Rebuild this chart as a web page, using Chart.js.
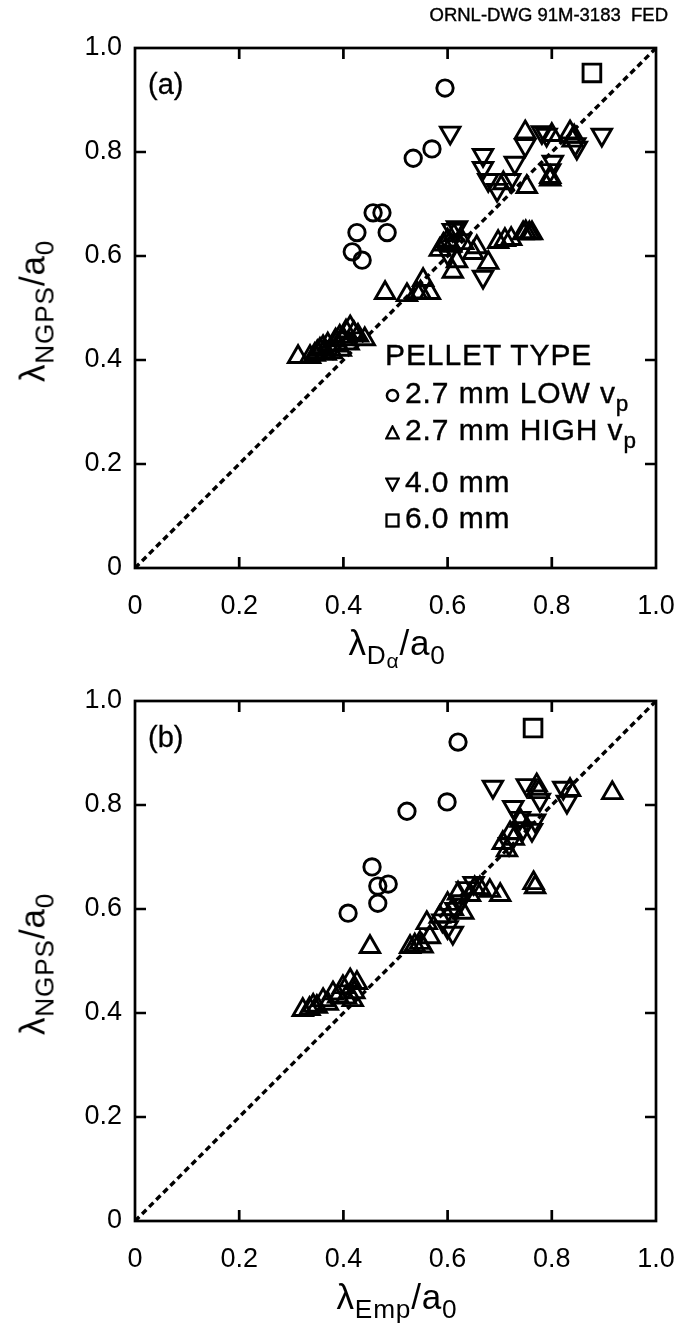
<!DOCTYPE html>
<html>
<head>
<meta charset="utf-8">
<script src="https://cdn.jsdelivr.net/npm/chart.js@4.4.1/dist/chart.umd.min.js"></script>
<style>
  html,body{margin:0;padding:0;background:#fff;}
  #wrap{position:relative;width:681px;height:1324px;overflow:hidden;background:#fff;font-family:"Liberation Sans",Arial,sans-serif;color:#000;}
  canvas{position:absolute;left:0;}
  .t{position:absolute;white-space:nowrap;line-height:1;}
  .ytitle{position:absolute;white-space:nowrap;line-height:1;transform:translate(-50%,-50%) rotate(-90deg);font-size:35px;letter-spacing:0.8px;}
  .xtitle{position:absolute;white-space:nowrap;line-height:1;transform:translate(-50%,-50%);font-size:35px;letter-spacing:0.8px;}
  sub{font-size:0.75em;vertical-align:-0.35em;line-height:0;}
  .leg{position:absolute;left:385px;font-size:30px;letter-spacing:0.9px;white-space:nowrap;line-height:1;transform:translateY(-50%);-webkit-text-stroke:0.4px #000;}
  .leg svg{vertical-align:middle;margin-right:5px;}
</style>
</head>
<body>
<div id="wrap">
  <canvas id="ca" width="681" height="653" style="top:0;width:681px;height:653px;"></canvas>
  <canvas id="cb" width="681" height="671" style="top:653px;width:681px;height:671px;"></canvas>

  <div class="t" style="right:13px;top:6px;font-size:18.5px;-webkit-text-stroke:0.4px #000;">ORNL-DWG 91M-3183&nbsp; FED</div>

  <div class="t" style="left:148px;top:70px;font-size:29px;-webkit-text-stroke:0.3px #000;">(a)</div>
  <div class="t" style="left:148px;top:723px;font-size:29px;-webkit-text-stroke:0.3px #000;">(b)</div>

  <div class="ytitle" style="left:32px;top:311px;">&lambda;<sub>NGPS</sub>/a<sub>0</sub></div>
  <div class="ytitle" style="left:32px;top:964px;">&lambda;<sub>NGPS</sub>/a<sub>0</sub></div>
  <div class="xtitle" style="left:397px;top:643px;">&lambda;<sub>D<sub style="font-size:0.8em;vertical-align:-0.2em">&alpha;</sub></sub>/a<sub>0</sub></div>
  <div class="xtitle" style="left:397px;top:1296px;">&lambda;<sub>Emp</sub>/a<sub>0</sub></div>

  <div class="leg" style="top:355px;">PELLET TYPE</div>
  <div class="leg" style="top:393px;"><svg width="15" height="15"><circle cx="7.5" cy="7.5" r="5.6" fill="none" stroke="#000" stroke-width="2.5"/></svg>2.7 mm LOW v<sub>p</sub></div>
  <div class="leg" style="top:430px;"><svg width="15" height="15"><polygon points="7.5,1.5 13.6,13.3 1.4,13.3" fill="none" stroke="#000" stroke-width="2.3"/></svg>2.7 mm HIGH v<sub>p</sub></div>
  <div class="leg" style="top:482px;"><svg width="15" height="15"><polygon points="1.4,1.7 13.6,1.7 7.5,13.5" fill="none" stroke="#000" stroke-width="2.3"/></svg>4.0 mm</div>
  <div class="leg" style="top:518px;"><svg width="15" height="15"><rect x="1.5" y="1.5" width="12" height="12" fill="none" stroke="#000" stroke-width="2.3"/></svg>6.0 mm</div>
</div>

<script>
// ---------- tick values / labels ----------
const tickValues = [0, 0.2, 0.4, 0.6, 0.8, 1.0];
const tickLabels = ['0', '0.2', '0.4', '0.6', '0.8', '1.0'];

// ---------- panel (a): lambda_Dalpha vs lambda_NGPS ----------
const aLow = [[0.595,0.923],[0.534,0.788],[0.570,0.806],[0.457,0.683],[0.474,0.683],
  [0.484,0.645],[0.426,0.645],[0.417,0.608],[0.436,0.592]];
const aHigh = [[0.313,0.406],[0.336,0.406],[0.345,0.410],[0.350,0.415],[0.355,0.420],[0.361,0.425],
  [0.366,0.412],[0.370,0.430],[0.378,0.415],[0.385,0.438],[0.389,0.428],[0.393,0.445],[0.400,0.440],
  [0.405,0.455],[0.410,0.432],[0.413,0.463],[0.420,0.452],[0.428,0.447],[0.441,0.440],[0.395,0.420],
  [0.480,0.529],[0.522,0.525],[0.541,0.529],[0.553,0.554],[0.566,0.529],[0.548,0.530],
  [0.585,0.612],[0.592,0.622],[0.600,0.630],[0.607,0.620],[0.612,0.640],[0.610,0.570],[0.618,0.590],
  [0.630,0.625],[0.649,0.606],[0.656,0.617],[0.678,0.587],[0.697,0.627],[0.710,0.631],[0.722,0.633],
  [0.745,0.644],[0.750,0.646],[0.757,0.644],[0.762,0.644],
  [0.707,0.740],[0.752,0.733],[0.749,0.838],[0.797,0.752],[0.800,0.833],[0.835,0.838],[0.843,0.830],
  [0.840,0.822],[0.797,0.747]];
const a40 = [[0.605,0.837],[0.610,0.650],[0.618,0.655],[0.600,0.605],[0.625,0.630],[0.668,0.560],
  [0.668,0.794],[0.668,0.769],[0.678,0.746],[0.695,0.727],[0.720,0.746],[0.729,0.779],[0.749,0.813],
  [0.781,0.838],[0.790,0.833],[0.802,0.781],[0.797,0.765],[0.848,0.808],[0.845,0.815],[0.896,0.833],
  [0.380,0.425]];
const a60 = [[0.877,0.952]];

// ---------- panel (b): lambda_Emp vs lambda_NGPS ----------
const bLow = [[0.620,0.921],[0.599,0.806],[0.522,0.788],[0.455,0.681],[0.466,0.644],[0.486,0.648],
  [0.466,0.611],[0.409,0.592]];
const bHigh = [[0.322,0.406],[0.335,0.408],[0.342,0.414],[0.349,0.412],[0.361,0.425],[0.370,0.418],
  [0.380,0.438],[0.390,0.432],[0.399,0.450],[0.405,0.430],[0.413,0.463],[0.418,0.425],[0.426,0.458],
  [0.421,0.440],
  [0.451,0.527],[0.528,0.527],[0.537,0.530],[0.547,0.535],[0.560,0.573],[0.566,0.546],[0.552,0.528],
  [0.585,0.585],[0.600,0.610],[0.610,0.600],[0.620,0.630],[0.630,0.593],[0.643,0.627],[0.652,0.640],
  [0.662,0.640],[0.681,0.635],[0.701,0.627],[0.768,0.642],[0.765,0.650],[0.706,0.727],[0.714,0.713],
  [0.720,0.746],[0.727,0.735],[0.740,0.770],[0.771,0.838],[0.775,0.825],[0.835,0.829],[0.916,0.823]];
const b40 = [[0.600,0.565],[0.610,0.554],[0.615,0.600],[0.625,0.615],[0.637,0.640],[0.650,0.650],
  [0.590,0.578],[0.687,0.835],[0.726,0.796],[0.739,0.775],[0.752,0.838],[0.762,0.752],[0.777,0.810],
  [0.768,0.770],[0.822,0.833],[0.829,0.806],[0.718,0.725],[0.745,0.755]];
const b60 = [[0.764,0.948]];

// ---------- parity line ----------
const parity = [[0,0],[1,1]];

const toXY = arr => arr.map(p => ({x:p[0], y:p[1]}));

const framePlugin = {
  id: 'frame',
  afterDraw(chart) {
    const {ctx, chartArea:a, scales:{x, y}} = chart;
    ctx.save();
    ctx.strokeStyle = '#000';
    ctx.lineWidth = 2.7;
    ctx.strokeRect(a.left, a.top, a.right - a.left, a.bottom - a.top);
    const L = 11;
    ctx.beginPath();
    tickValues.forEach(v => {
      if (v <= 0 || v >= 1) return;
      const px = x.getPixelForValue(v), py = y.getPixelForValue(v);
      ctx.moveTo(px, a.bottom); ctx.lineTo(px, a.bottom - L);
      ctx.moveTo(px, a.top); ctx.lineTo(px, a.top + L);
      ctx.moveTo(a.left, py); ctx.lineTo(a.left + L, py);
      ctx.moveTo(a.right, py); ctx.lineTo(a.right - L, py);
    });
    ctx.stroke();
    ctx.restore();
  }
};

function makeChart(id, low, high, d40, d60, xAxisHeight) {
  const mk = { borderColor:'#000', backgroundColor:'rgba(0,0,0,0)', borderWidth:2.9, showLine:false };
  return new Chart(document.getElementById(id), {
    type: 'scatter',
    data: {
      datasets: [
        { ...mk, label:'parity', data: toXY(parity), showLine:true, borderWidth:3.4,
          borderDash:[6,4], pointRadius:0, fill:false, order:5 },
        { ...mk, label:'2.7 mm LOW vp', data: toXY(low), pointStyle:'circle', pointRadius:8.2 },
        { ...mk, label:'2.7 mm HIGH vp', data: toXY(high), pointStyle:'triangle', pointRadius:11.2 },
        { ...mk, label:'4.0 mm', data: toXY(d40), pointStyle:'triangle', pointRotation:180, pointRadius:11.2 },
        { ...mk, label:'6.0 mm', data: toXY(d60), pointStyle:'rect', pointRadius:12.5 }
      ]
    },
    options: {
      responsive: false,
      animation: false,
      devicePixelRatio: 1,
      layout: { padding: { top:48, right:25, left:0, bottom:0 } },
      plugins: { legend:{display:false}, tooltip:{enabled:false}, title:{display:false} },
      elements: { point: { hoverRadius: 0 } },
      scales: {
        x: {
          type:'linear', min:0, max:1,
          ticks: { stepSize:0.2, color:'#000', padding:22, maxRotation:0,
            font:{ family:'"Liberation Sans", Arial, sans-serif', size:27 },
            callback:(v,i) => tickLabels[i] },
          grid: { display:false, drawTicks:false },
          border: { display:false },
          afterFit: s => { s.height = xAxisHeight; s.paddingLeft = 0; s.paddingRight = 0; }
        },
        y: {
          type:'linear', min:0, max:1,
          ticks: { stepSize:0.2, color:'#000', padding:13,
            font:{ family:'"Liberation Sans", Arial, sans-serif', size:27 },
            callback:(v,i) => tickLabels[i] },
          grid: { display:false, drawTicks:false },
          border: { display:false },
          afterFit: s => { s.width = 135; s.paddingTop = 0; s.paddingBottom = 0; }
        }
      }
    },
    plugins: [framePlugin]
  });
}

makeChart('ca', aLow, aHigh, a40, a60, 85);
makeChart('cb', bLow, bHigh, b40, b60, 103);
</script>
</body>
</html>
